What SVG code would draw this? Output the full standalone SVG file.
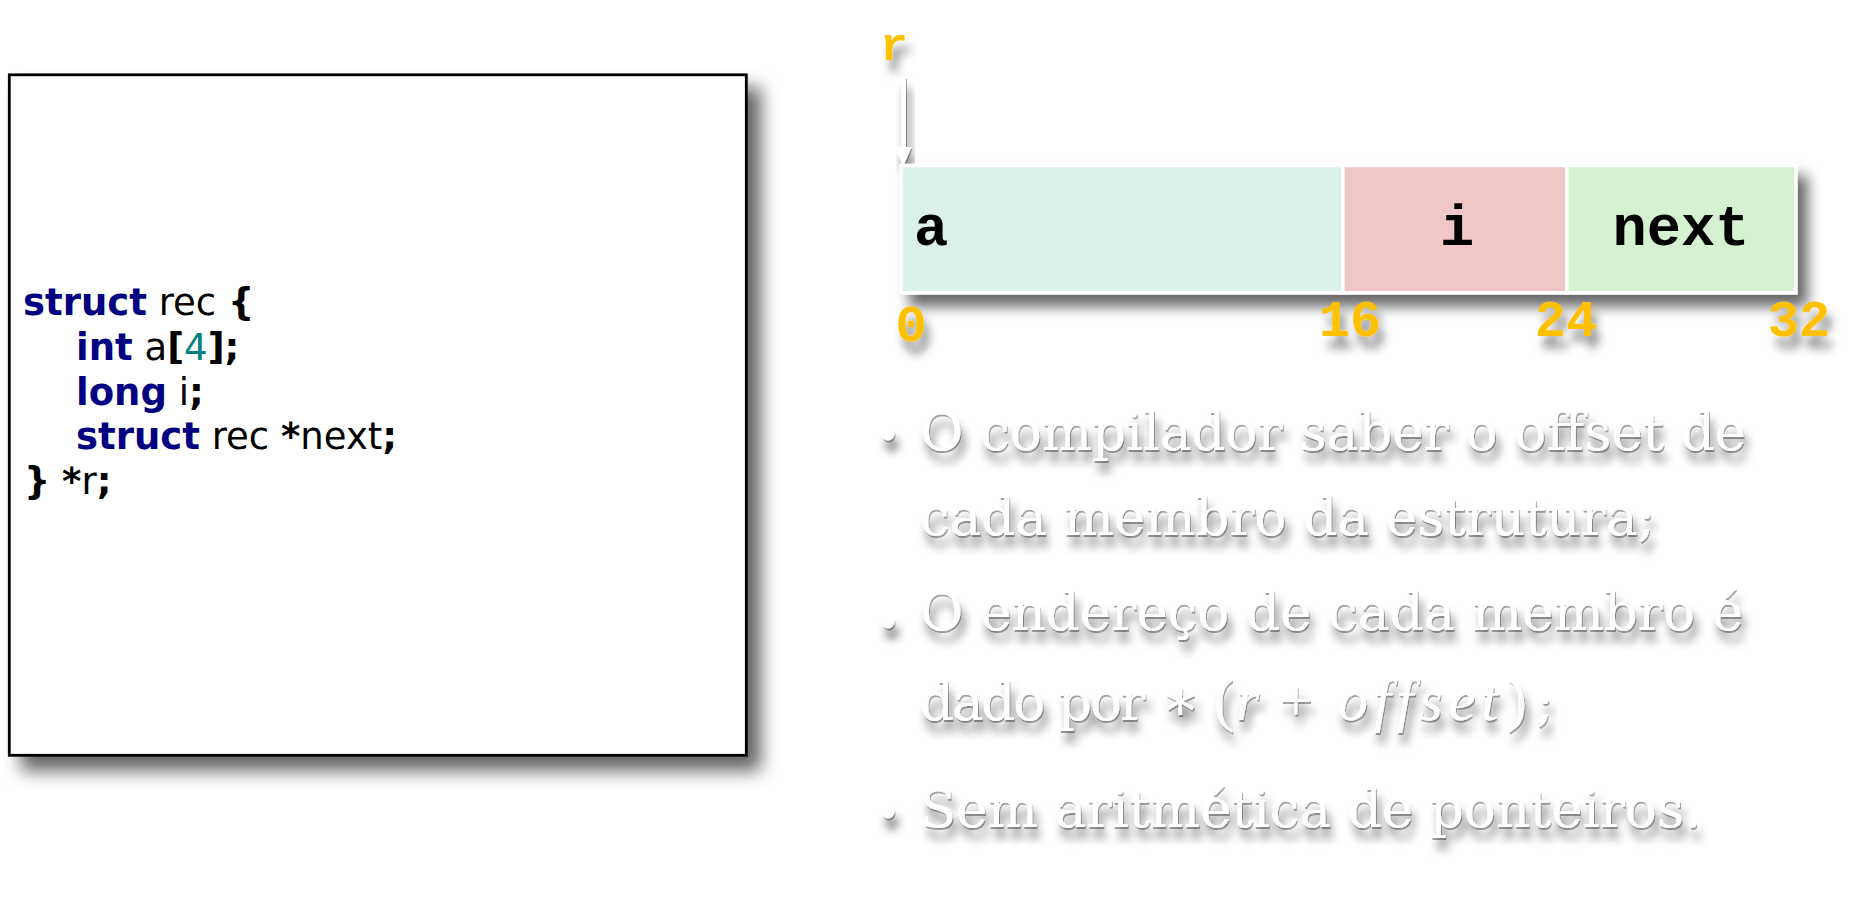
<svg xmlns="http://www.w3.org/2000/svg" width="1860" height="909" viewBox="0 0 1860 909">
<defs>
<style>
.code{font-family:"DejaVu Sans","Verdana",sans-serif;font-size:37px;fill:#000}
.kw{fill:#000080;font-weight:bold}
.b{font-weight:bold}
.num4{fill:#008080}
.mono{font-family:"Liberation Mono","Courier New",monospace;font-weight:bold}
.fld{font-size:57px;fill:#000}
.ofs{font-size:52px;fill:#FFC000;text-anchor:middle}
.bul{font-family:"DejaVu Serif","Liberation Serif",serif;font-size:53px;fill:#fff}
.m{font-family:"Liberation Serif","DejaVu Serif",serif;font-size:60px}
.mi{font-family:"Liberation Serif","DejaVu Serif",serif;font-size:60px;font-style:italic}
.cell{stroke:#fff;stroke-width:3.6}
</style>
<filter id="boxShadow" x="-10%" y="-10%" width="125%" height="130%">
<feDropShadow dx="13" dy="14" stdDeviation="9" flood-color="#000" flood-opacity="0.62"/>
</filter>
<filter id="cellShadow" x="-10%" y="-20%" width="125%" height="160%">
<feDropShadow dx="10" dy="12" stdDeviation="7" flood-color="#000" flood-opacity="0.6"/>
</filter>
<filter id="txtShadow" x="-20%" y="-50%" width="140%" height="220%">
<feGaussianBlur in="SourceAlpha" stdDeviation="5" result="b"/>
<feOffset in="b" dx="4" dy="11" result="o"/>
<feComponentTransfer in="o" result="s"><feFuncA type="linear" slope="0.5"/></feComponentTransfer>
<feGaussianBlur in="SourceAlpha" stdDeviation="0.7" result="b2"/>
<feOffset in="b2" dx="1.2" dy="1.5" result="o2"/>
<feComponentTransfer in="o2" result="s2"><feFuncA type="linear" slope="0.35"/></feComponentTransfer>
<feMerge><feMergeNode in="s"/><feMergeNode in="s2"/><feMergeNode in="SourceGraphic"/></feMerge>
</filter>
<filter id="softShadow" x="-30%" y="-50%" width="160%" height="220%">
<feDropShadow dx="5" dy="12" stdDeviation="5" flood-color="#000" flood-opacity="0.45"/>
</filter>
</defs>
<rect width="1860" height="909" fill="#fff"/>

<g id="code-box">
<rect x="9.3" y="74.8" width="737" height="680.5" fill="#fff" stroke="#000" stroke-width="2.8" filter="url(#boxShadow)"/>
<text class="code" x="23" y="315"><tspan class="kw">struct</tspan> rec <tspan class="b">{</tspan></text>
<text class="code" x="76" y="360"><tspan class="kw">int</tspan> a<tspan class="b">[</tspan><tspan class="num4">4</tspan><tspan class="b">];</tspan></text>
<text class="code" x="76" y="405"><tspan class="kw">long</tspan> i<tspan class="b">;</tspan></text>
<text class="code" x="76" y="449"><tspan class="kw">struct</tspan> rec <tspan class="b">*</tspan>next<tspan class="b">;</tspan></text>
<text class="code" x="24" y="494"><tspan class="b">}</tspan> <tspan class="b">*</tspan>r<tspan class="b">;</tspan></text>
</g>

<g id="connectors">
<g id="arrow-r" filter="url(#txtShadow)">
<line x1="903.5" y1="77" x2="903.5" y2="150" stroke="#fff" stroke-width="5"/>
<polygon points="895.5,147 911.5,147 903,167" fill="#fff"/>
</g>
</g>

<g id="pointer-r" filter="url(#softShadow)">
<text class="mono" x="894" y="60" font-size="46" fill="#FFC000" text-anchor="middle">r</text>
</g>

<g id="struct-layout">
<g filter="url(#cellShadow)">
<rect class="cell" x="901" y="165.4" width="442" height="127.4" fill="#DCF1EB"/>
<rect class="cell" x="1342.8" y="165.4" width="224" height="127.4" fill="#F0C6C6"/>
<rect class="cell" x="1566.8" y="165.4" width="229" height="127.4" fill="#D6F0D2"/>
</g>
<text class="mono fld" x="914" y="245">a</text>
<text class="mono fld" x="1457" y="245" text-anchor="middle">i</text>
<text class="mono fld" x="1681" y="245" text-anchor="middle">next</text>
</g>

<g id="offsets" filter="url(#softShadow)">
<text class="mono ofs" x="911" y="341">0</text>
<text class="mono ofs" x="1350" y="336">16</text>
<text class="mono ofs" x="1566" y="336">24</text>
<text class="mono ofs" x="1799" y="336">32</text>
</g>

<g id="bullets" filter="url(#txtShadow)">
<circle cx="888" cy="434" r="6.5" fill="#fff"/>
<text class="bul" x="920" y="450">O compilador saber o offset de</text>
<text class="bul" x="920" y="535">cada membro da estrutura;</text>
<circle cx="888" cy="622" r="6.5" fill="#fff"/>
<text class="bul" x="920" y="630">O endereço de cada membro é</text>
<text class="bul" x="920" y="720"><tspan letter-spacing="-2">dado por</tspan> <tspan class="m" x="1160" font-size="46">∗</tspan><tspan class="m" x="1214">(</tspan><tspan class="mi" x="1236">r</tspan><tspan class="m" x="1279">+</tspan><tspan class="mi" x="1338" letter-spacing="6">offset</tspan><tspan class="m" x="1507">)</tspan><tspan x="1536">;</tspan></text>
<circle cx="888" cy="812" r="6.5" fill="#fff"/>
<text class="bul" x="920" y="827">Sem aritmética de ponteiros.</text>
</g>
</svg>
